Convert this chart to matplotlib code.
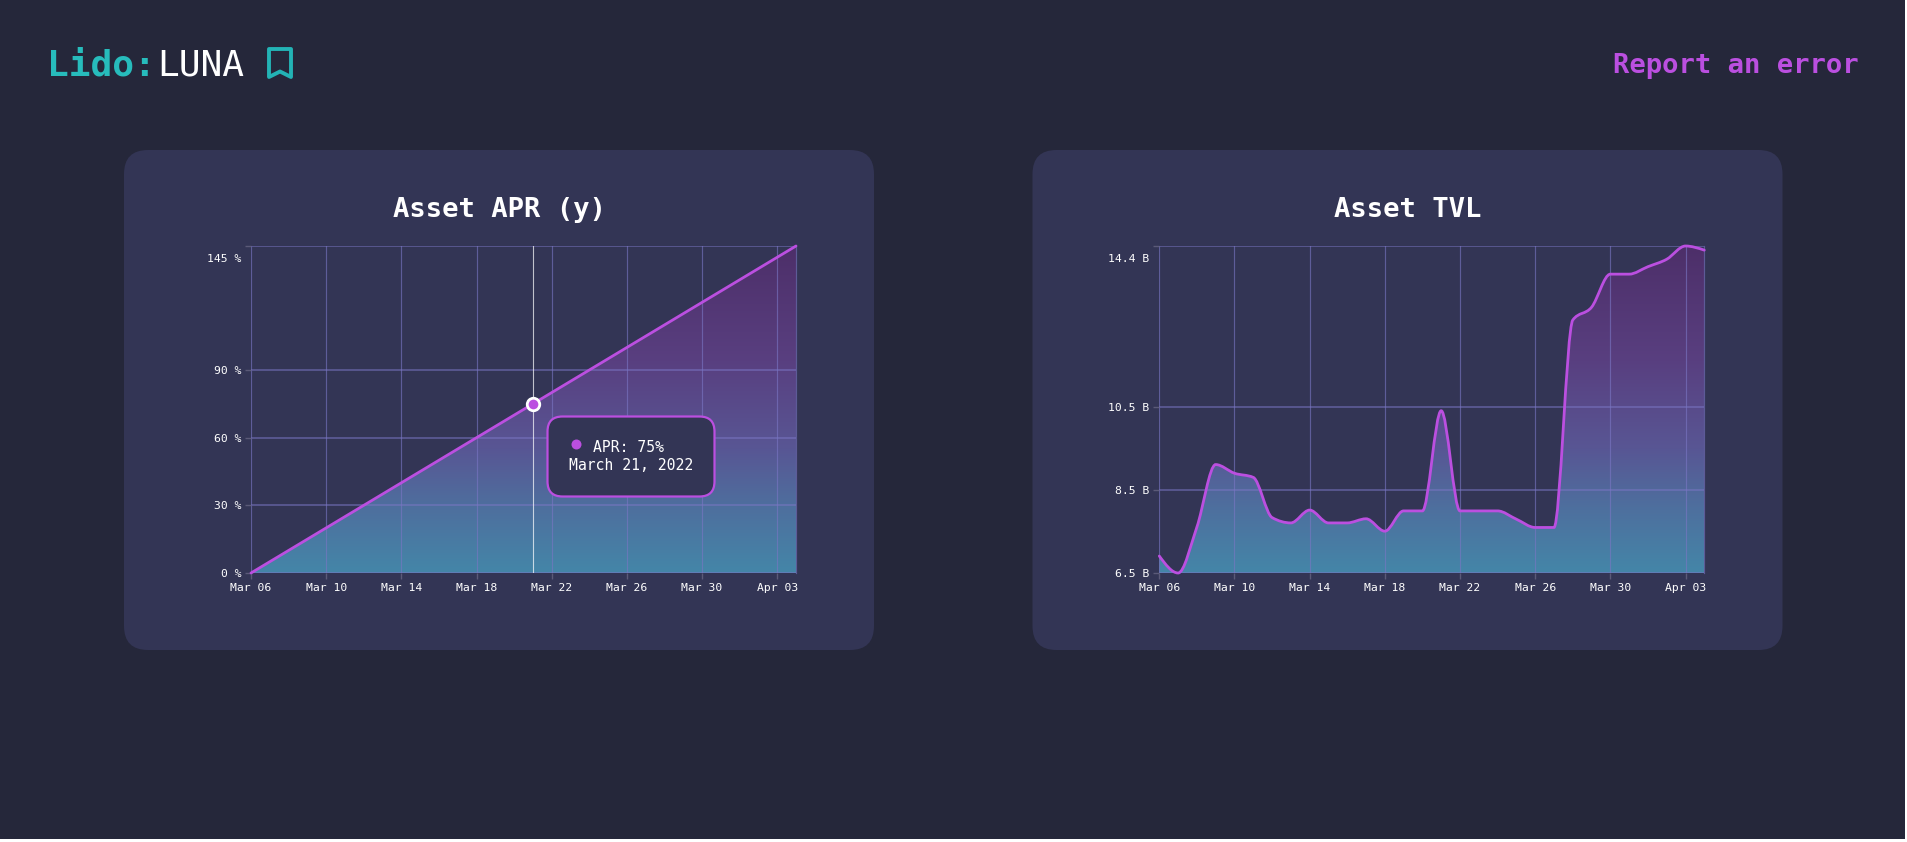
#!/usr/bin/env python
"""Lido:LUNA dashboard, two area charts on dark cards."""
import datetime as dt

import matplotlib
matplotlib.use("Agg")
import matplotlib.dates as mdates
import matplotlib.pyplot as plt
import numpy as np
from matplotlib.colors import LinearSegmentedColormap
from matplotlib.patches import FancyBboxPatch, PathPatch, Polygon, Rectangle
from matplotlib.path import Path
from matplotlib.transforms import ScaledTranslation

dates = [dt.date(2022, 3, 6) + dt.timedelta(days=i) for i in range(30)]
apr = [0, 5, 10, 15, 20, 25, 30, 35, 40, 45, 50, 55, 60, 65, 70,
       75, 80, 85, 90, 95, 100, 105, 110, 115, 120, 125, 130, 135, 140, 145]
tvl = [6.91, 6.50, 7.61, 9.12, 8.91, 8.81, 7.84, 7.71, 8.02, 7.71,
       7.71, 7.81, 7.51, 8.00, 8.00, 10.42, 8.00, 8.00, 8.00, 7.80,
       7.60, 7.60, 12.61, 12.92, 13.72, 13.72, 13.90, 14.08, 14.40, 14.30]
apr_ticks = [0, 30, 60, 90, 145]
apr_labels = ["0 %", "30 %", "60 %", "90 %", "145 %"]
tvl_ticks = [6.5, 8.5, 10.5, 14.4]
tvl_labels = ["6.5 B", "8.5 B", "10.5 B", "14.4 B"]

BG = "#25273a"
CARD = "#333555"
PURPLE = "#bb4fe0"
TEAL = "#27bcbc"
GRID = "#7a76c4"
W, H = 1908, 842
plt.rcParams["font.family"] = "DejaVu Sans Mono"

fig = plt.figure(figsize=(W / 100, H / 100), dpi=100, facecolor="white")
fill_cmap = LinearSegmentedColormap.from_list(
    "fill", [(0, "#4d2f69"), (0.35, "#593f80"), (0.62, "#585694"), (0.8, "#4e6f9e"), (1, "#4486a8")])


def px_axes(z):
    ax = fig.add_axes([0, 0, 1, 1], zorder=z)
    ax.set_xlim(0, W)
    ax.set_ylim(H, 0)
    ax.axis("off")
    ax.patch.set_alpha(0)
    return ax


def monotone_path(x, y):
    # same curve as d3 curveMonotoneX, as cubic bezier segments
    x = np.asarray(x, float)
    y = np.asarray(y, float)
    h = np.diff(x)
    s = np.diff(y) / h
    m = np.zeros(len(x))
    for i in range(1, len(x) - 1):
        p = (s[i - 1] * h[i] + s[i] * h[i - 1]) / (h[i - 1] + h[i])
        m[i] = (np.sign(s[i - 1]) + np.sign(s[i])) * min(abs(s[i - 1]), abs(s[i]), 0.5 * abs(p))
    m[0] = (3 * s[0] - m[1]) / 2
    m[-1] = (3 * s[-1] - m[-2]) / 2
    verts = [(x[0], y[0])]
    codes = [Path.MOVETO]
    for i in range(len(h)):
        d = h[i] / 3
        verts += [(x[i] + d, y[i] + m[i] * d), (x[i + 1] - d, y[i + 1] - m[i + 1] * d), (x[i + 1], y[i + 1])]
        codes += [Path.CURVE4] * 3
    return verts, codes


def area_chart(x0, title_x, title, values, yticks, ylabels):
    x1, top, bottom = x0 + 545, 246, 573
    ax = fig.add_axes([x0 / W, 1 - bottom / H, (x1 - x0) / W, (bottom - top) / H], zorder=1)
    ax.patch.set_alpha(0)
    xs = mdates.date2num(dates)
    ymin, ymax = yticks[0], yticks[-1]
    verts, codes = monotone_path(xs, values)
    area = Path(verts + [(xs[-1], ymin), (xs[0], ymin), (xs[0], values[0])],
                codes + [Path.LINETO, Path.LINETO, Path.LINETO])
    clip = PathPatch(area, transform=ax.transData, fc="none", ec="none")
    ax.add_patch(clip)
    grad = np.linspace(0, 1, 256).reshape(-1, 1)
    im = ax.imshow(grad, cmap=fill_cmap, extent=(xs[0], xs[-1], ymin, ymax), origin="upper",
                   aspect="auto", zorder=1, interpolation="bilinear")
    im.set_clip_path(clip)
    ax.add_patch(PathPatch(Path(verts, codes), fc="none", ec=PURPLE, lw=2.0, zorder=3, clip_on=False,
                           capstyle="round"))
    ax.set_xlim(xs[0], xs[-1])
    ax.set_ylim(ymin, ymax)
    ax.set_xticks(xs[::4])
    ax.xaxis.set_major_formatter(mdates.DateFormatter("%b %d"))
    ax.set_yticks(yticks)
    ax.set_yticklabels(ylabels)
    ax.tick_params(axis="both", length=4.5, width=1, color="#5b5a78", labelcolor="white", labelsize=8.2, pad=2.5)
    ax.grid(True, axis="x", color=GRID, lw=0.85, alpha=0.62)
    ax.grid(True, axis="y", color=GRID, lw=1.1, alpha=0.65)
    ax.set_axisbelow(False)
    # gridlines already run along the left, top and bottom edges
    for side in ["left", "top", "bottom"]:
        ax.spines[side].set_visible(False)
    ax.spines["right"].set_color(GRID)
    ax.spines["right"].set_alpha(0.6)
    ax.spines["right"].set_linewidth(0.85)
    # the top label sits below its tick
    top_label = ax.get_yticklabels()[-1]
    top_label.set_transform(top_label.get_transform() + ScaledTranslation(0, -12 / 100, fig.dpi_scale_trans))
    bg.text(title_x, 217, title, color="white", fontsize=19.6, fontweight="bold", ha="center",
            va="baseline")
    return ax


bg = px_axes(0)
bg.add_patch(Rectangle((0, 0), 1905, 839, fc=BG, ec="none"))
for card_x in [124, 1032.5]:
    bg.add_patch(FancyBboxPatch((card_x, 150), 750, 500, boxstyle="round,pad=0,rounding_size=24",
                                fc=CARD, ec="none"))

bg.text(47, 76, "Lido:", color=TEAL, fontsize=26, fontweight="bold", va="baseline")
bg.text(157, 76, "LUNA", color="white", fontsize=26, va="baseline")
bg.add_patch(Polygon([(269, 49), (291, 49), (291, 77), (280, 71.5), (269, 77)], closed=True, fc="none",
                     ec="#23b3b5", lw=2.8, joinstyle="round"))
bg.text(1613, 73, "Report an error", color=PURPLE, fontsize=19.6, fontweight="bold", va="baseline")

ax_apr = area_chart(251, 499, "Asset APR (y)", apr, apr_ticks, apr_labels)
ax_tvl = area_chart(1159.3, 1408, "Asset TVL", tvl, tvl_ticks, tvl_labels)

# hover state on the APR chart
hover = 15
hover_x = mdates.date2num(dates[hover])
ax_apr.axvline(hover_x, color="white", lw=0.8, alpha=0.7, zorder=2.8)
ax_apr.plot([hover_x], [apr[hover]], "o", ms=9, mfc=PURPLE, mec="white", mew=2, zorder=4)

over = px_axes(2)
over.add_patch(FancyBboxPatch((547.5, 416.5), 167, 80, boxstyle="round,pad=0,rounding_size=15",
                              fc=CARD, ec=PURPLE, lw=1.6))
over.plot([576], [444], "o", ms=7.2, color=PURPLE, mew=0)
over.text(593, 447, "APR: 75%", color="white", fontsize=10.6, va="center")
over.text(569, 466, "March 21, 2022", color="white", fontsize=10.6, va="center")

fig.savefig("out.png", dpi=100, facecolor=fig.get_facecolor())
print("written")
